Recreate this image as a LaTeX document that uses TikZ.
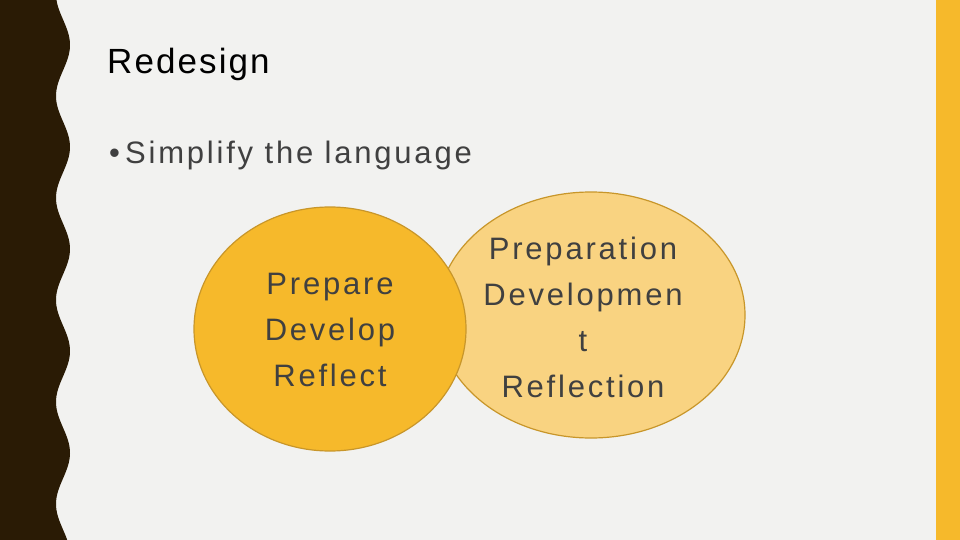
\documentclass[tikz,border=0pt]{standalone}
\usepackage{fontspec}
\setmainfont{Liberation Sans}
\newfontfamily\wide[LetterSpace=9]{Liberation Sans}
\newfontfamily\widet[LetterSpace=6]{Liberation Sans}
\begin{document}
\begin{tikzpicture}[x=1pt,y=-1pt,
  txt/.style={text=black!75, font=\wide\fontsize{31}{46}\selectfont, align=center}]
\definecolor{bg}{HTML}{F2F2F0}
\definecolor{dark}{HTML}{2A1B05}
\definecolor{gold}{HTML}{F6B92B}
\definecolor{lgold}{HTML}{F9D381}
\definecolor{edge}{HTML}{C8962A}
\useasboundingbox (0,0) rectangle (960,540);
\fill[bg] (0,0) rectangle (960,540);
\fill[gold] (936,0) rectangle (960,540);
\fill[dark] (0,0) -- plot[domain=0:540,samples=200,variable=\t] ({63+7*cos(3.5294*(\t-45))},\t) -- (0,540) -- cycle;
\node[anchor=base west, inner sep=0pt, font=\widet\fontsize{35}{40}\selectfont] (title) at (107,74) {Redesign};
\node[anchor=base west, inner sep=0pt, font=\wide\fontsize{31}{36}\selectfont, text=black!75] (bul) at (109,164) {\textbullet\,Simplify the language};
\draw[edge, fill=lgold, line width=1.2pt] (591,315) ellipse [x radius=154, y radius=123] ;
\draw[edge, fill=gold, line width=1.2pt] (330,329) ellipse [x radius=136, y radius=122];
\node[txt] (l) at (330,330) {Prepare\\Develop\\Reflect};
\node[txt] (r) at (583,317) {Preparation\\Developmen\\t\\Reflection};
\end{tikzpicture}
\end{document}
